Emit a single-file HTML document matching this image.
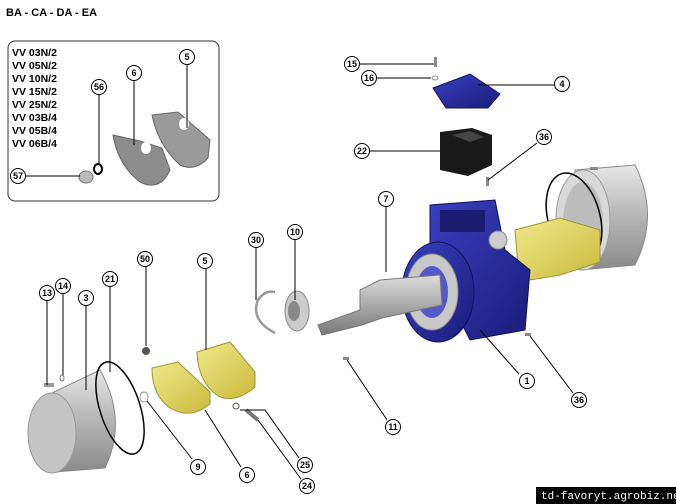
<!DOCTYPE html>
<html><head><meta charset="utf-8"><style>
html,body{margin:0;padding:0;background:#fff;width:676px;height:504px;overflow:hidden}
svg{display:block}
.l{fill:#fff;stroke:#000;stroke-width:1}
.t{font-family:"Liberation Sans",sans-serif;font-size:9px;font-weight:bold;text-anchor:middle;dominant-baseline:central}
.ln{stroke:#000;stroke-width:1;fill:none}
.vv{font-family:"Liberation Sans",sans-serif;font-size:10.5px;font-weight:bold}
</style></head><body>
<svg width="676" height="504" viewBox="0 0 676 504" xmlns="http://www.w3.org/2000/svg">
<defs>
<linearGradient id="sil" x1="0" y1="0" x2="0" y2="1"><stop offset="0" stop-color="#e8e8e8"/><stop offset=".4" stop-color="#bdbdbd"/><stop offset="1" stop-color="#8a8a8a"/></linearGradient>
<linearGradient id="yel" x1="0" y1="0" x2="1" y2="1"><stop offset="0" stop-color="#f0e88a"/><stop offset="1" stop-color="#c8bb3c"/></linearGradient>
<linearGradient id="blu" x1="0" y1="0" x2="1" y2="1"><stop offset="0" stop-color="#3a3fc0"/><stop offset="1" stop-color="#1a1d7a"/></linearGradient>
<linearGradient id="shaft" x1="0" y1="0" x2="0" y2="1"><stop offset="0" stop-color="#ddd"/><stop offset=".5" stop-color="#aaa"/><stop offset="1" stop-color="#777"/></linearGradient>
</defs>
<text x="6" y="16" class="vv" style="font-size:11px">BA - CA - DA - EA</text>
<rect x="8" y="41" width="211" height="160" rx="7" fill="none" stroke="#333" stroke-width="1"/>
<g class="vv">
<text x="12" y="56">VV 03N/2</text><text x="12" y="69">VV 05N/2</text><text x="12" y="82">VV 10N/2</text><text x="12" y="95">VV 15N/2</text><text x="12" y="108">VV 25N/2</text><text x="12" y="121">VV 03B/4</text><text x="12" y="134">VV 05B/4</text><text x="12" y="147">VV 06B/4</text>
</g>
<!-- inset plates -->
<path d="M113,135 L140,141 L162,148 L170,170 Q160,192 140,182 Q118,165 113,135Z" fill="#8c8c8c" stroke="#666"/>
<path d="M152,115 L178,112 L210,140 L208,158 Q195,172 180,165 Q158,145 152,115Z" fill="#9a9a9a" stroke="#666"/>
<ellipse cx="146" cy="148" rx="5" ry="6" fill="#fff"/><ellipse cx="184" cy="124" rx="5" ry="6" fill="#fff"/>
<ellipse cx="86" cy="177" rx="7" ry="6" fill="#bbb" stroke="#777"/>
<ellipse cx="98" cy="169" rx="4" ry="5" fill="none" stroke="#000" stroke-width="2"/>
<!-- top lid -->
<path d="M433,88 L470,74 L500,94 L488,108 L446,108Z" fill="url(#blu)" stroke="#12145a"/>
<rect x="434" y="57" width="3" height="10" fill="#888"/>
<ellipse cx="435" cy="78" rx="3" ry="2" fill="none" stroke="#999"/>
<!-- coupling 22 -->
<path d="M440,132 L472,128 L492,135 L492,165 L468,176 L440,170Z" fill="#1a1a1a"/>
<path d="M452,135 L470,131 L484,137 L470,142Z" fill="#444"/>
<rect x="486" y="177" width="3" height="9" fill="#888"/>
<!-- right cover -->
<path d="M575,170 L635,165 Q660,215 635,265 L580,270Z" fill="url(#sil)" stroke="#888"/>
<ellipse cx="583" cy="220" rx="27" ry="50" fill="#d8d8d8" stroke="#999"/>
<ellipse cx="583" cy="222" rx="20" ry="40" fill="#bcbcbc"/>
<ellipse cx="574" cy="218" rx="26" ry="46" fill="none" stroke="#000" stroke-width="1.5" transform="rotate(-15 574 218)"/>
<rect x="590" y="167" width="8" height="3" fill="#888"/>
<!-- right pistons -->
<path d="M515,230 L560,218 L600,230 L600,262 L560,275 L530,280 L518,265Z" fill="url(#yel)" stroke="#a09430"/>
<!-- blue body -->
<path d="M430,205 L495,200 L505,250 L530,270 L525,330 L470,340 L455,310 L430,250Z" fill="url(#blu)" stroke="#10125a"/>
<ellipse cx="438" cy="292" rx="36" ry="50" fill="url(#blu)" stroke="#10125a"/>
<ellipse cx="432" cy="292" rx="26" ry="38" fill="#c8c8c8" stroke="#888"/>
<ellipse cx="432" cy="292" rx="16" ry="26" fill="#5558c8"/>
<rect x="440" y="210" width="45" height="22" fill="#1a1d70"/>
<circle cx="498" cy="240" r="9" fill="#ccc" stroke="#888"/>
<!-- shaft -->
<path d="M318,325 L360,310 L360,290 L380,280 L440,275 L442,305 L382,318 L362,325 L322,335Z" fill="url(#shaft)" stroke="#777"/>
<!-- bearing & circlip -->
<ellipse cx="297" cy="311" rx="12" ry="20" fill="#ccc" stroke="#888"/>
<ellipse cx="294" cy="311" rx="6" ry="10" fill="#888"/>
<path d="M275,333 Q250,320 258,300 Q265,290 275,292" fill="none" stroke="#999" stroke-width="2.5"/>
<!-- left pistons -->
<path d="M152,368 L178,362 L210,392 L210,404 Q190,420 170,408 Q152,395 152,368Z" fill="url(#yel)" stroke="#a09430"/>
<path d="M197,352 L230,342 L255,372 L255,387 Q235,404 218,396 Q198,382 197,352Z" fill="url(#yel)" stroke="#a09430"/>
<circle cx="146" cy="351" r="4" fill="#555"/>
<ellipse cx="144" cy="397" rx="4" ry="5" fill="none" stroke="#999"/>
<ellipse cx="236" cy="406" rx="3" ry="3" fill="none" stroke="#555"/>
<path d="M246,410 L258,420" stroke="#777" stroke-width="4"/>
<!-- left cover -->
<path d="M52,393 L100,370 Q128,420 105,468 L55,472Z" fill="url(#sil)" stroke="#888"/>
<ellipse cx="52" cy="433" rx="24" ry="40" fill="#c4c4c4" stroke="#999"/>
<ellipse cx="120" cy="408" rx="20" ry="48" fill="none" stroke="#000" stroke-width="1.5" transform="rotate(-18 120 408)"/>
<rect x="44" y="383" width="10" height="4" fill="#999"/>
<ellipse cx="62" cy="378" rx="2" ry="3" fill="none" stroke="#777"/>
<rect x="343" y="357" width="6" height="3" fill="#888"/>
<rect x="525" y="333" width="6" height="3" fill="#888"/>
<!-- leader lines -->
<g class="ln">
<path d="M26,176 H80"/><path d="M99,95 V165"/><path d="M134,81 V145"/><path d="M187,65 V128"/>
<path d="M360,64 H434"/><path d="M377,78 H431"/><path d="M554,85 H478"/><path d="M370,151 H440"/><path d="M537,143 L488,180"/>
<path d="M386,207 V272"/><path d="M256,248 V300"/><path d="M295,240 V300"/><path d="M146,266 V346"/><path d="M206,269 V350"/>
<path d="M47,301 V385"/><path d="M63,294 V375"/><path d="M86,306 V390"/><path d="M110,287 V372"/>
<path d="M519,374 L480,330"/><path d="M573,393 L530,336"/><path d="M387,420 L347,360"/>
<path d="M192,459 L147,401"/><path d="M241,467 L205,410"/><path d="M299,458 L265,410 H240"/><path d="M301,479 L258,420"/>
</g>
<g>
<g transform="translate(18,176)"><circle class="l" r="7.5"/><text class="t">57</text></g>
<g transform="translate(99,87)"><circle class="l" r="7.5"/><text class="t">56</text></g>
<g transform="translate(134,73)"><circle class="l" r="7.5"/><text class="t">6</text></g>
<g transform="translate(187,57)"><circle class="l" r="7.5"/><text class="t">5</text></g>
<g transform="translate(352,64)"><circle class="l" r="7.5"/><text class="t">15</text></g>
<g transform="translate(369,78)"><circle class="l" r="7.5"/><text class="t">16</text></g>
<g transform="translate(562,84)"><circle class="l" r="7.5"/><text class="t">4</text></g>
<g transform="translate(362,151)"><circle class="l" r="7.5"/><text class="t">22</text></g>
<g transform="translate(544,137)"><circle class="l" r="7.5"/><text class="t">36</text></g>
<g transform="translate(386,199)"><circle class="l" r="7.5"/><text class="t">7</text></g>
<g transform="translate(256,240)"><circle class="l" r="7.5"/><text class="t">30</text></g>
<g transform="translate(295,232)"><circle class="l" r="7.5"/><text class="t">10</text></g>
<g transform="translate(145,259)"><circle class="l" r="7.5"/><text class="t">50</text></g>
<g transform="translate(205,261)"><circle class="l" r="7.5"/><text class="t">5</text></g>
<g transform="translate(47,293)"><circle class="l" r="7.5"/><text class="t">13</text></g>
<g transform="translate(63,286)"><circle class="l" r="7.5"/><text class="t">14</text></g>
<g transform="translate(86,298)"><circle class="l" r="7.5"/><text class="t">3</text></g>
<g transform="translate(110,279)"><circle class="l" r="7.5"/><text class="t">21</text></g>
<g transform="translate(527,381)"><circle class="l" r="7.5"/><text class="t">1</text></g>
<g transform="translate(579,400)"><circle class="l" r="7.5"/><text class="t">36</text></g>
<g transform="translate(393,427)"><circle class="l" r="7.5"/><text class="t">11</text></g>
<g transform="translate(198,467)"><circle class="l" r="7.5"/><text class="t">9</text></g>
<g transform="translate(247,475)"><circle class="l" r="7.5"/><text class="t">6</text></g>
<g transform="translate(305,465)"><circle class="l" r="7.5"/><text class="t">25</text></g>
<g transform="translate(307,486)"><circle class="l" r="7.5"/><text class="t">24</text></g>
</g>
<rect x="536" y="487" width="140" height="17" fill="#000"/>
<text x="541" y="499" fill="#fff" font-family="Liberation Mono,monospace" font-size="11">td-favoryt.agrobiz.net</text>
</svg>
</body></html>
